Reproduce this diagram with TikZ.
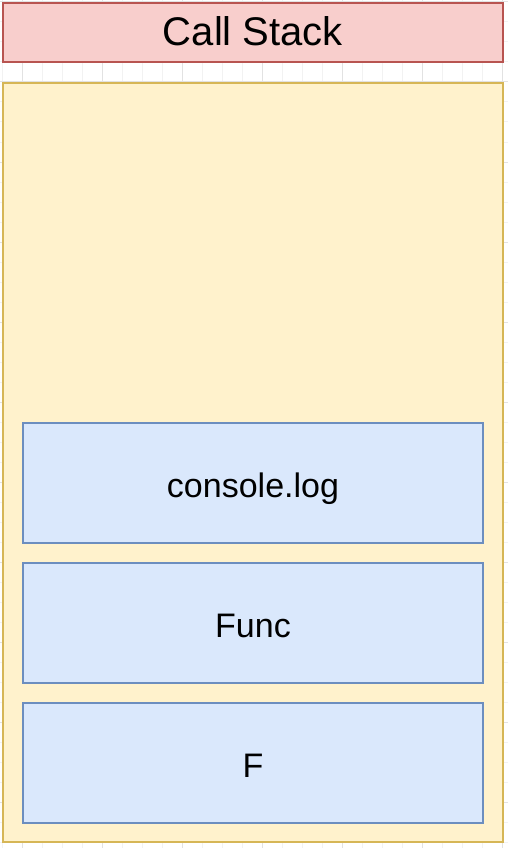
\documentclass[tikz,border=0pt]{standalone}
\usepackage{fontspec}
\setmainfont{Liberation Sans}
\usetikzlibrary{positioning}
\definecolor{headfill}{HTML}{F8CECC}
\definecolor{headline}{HTML}{B85450}
\definecolor{stackfill}{HTML}{FFF2CC}
\definecolor{stackline}{HTML}{D6B656}
\definecolor{framefill}{HTML}{DAE8FC}
\definecolor{frameline}{HTML}{6C8EBF}
\definecolor{gridminor}{HTML}{F2F2F2}
\definecolor{gridmajor}{HTML}{E2E2E2}

\begin{document}
\begin{tikzpicture}[x=1pt,y=-1pt,
    headbox/.style={draw=headline,fill=headfill,line width=1.2pt,
        minimum width=500pt,minimum height=59pt,inner sep=0pt,outer sep=0pt,
        text height=26pt,text depth=0pt,
        font=\fontsize{40}{46}\selectfont},
    stackbox/.style={draw=stackline,fill=stackfill,line width=1.2pt,
        minimum width=500pt,minimum height=759pt,inner sep=0pt,outer sep=0pt},
    framebox/.style={draw=frameline,fill=framefill,line width=1.2pt,
        minimum width=460pt,minimum height=120pt,inner sep=0pt,outer sep=0pt,
        text height=28pt,text depth=0pt,
        font=\fontsize{34}{40}\selectfont}]
    \useasboundingbox (0,0) rectangle (508,848);
    % background grid
    \foreach \x in {2.5,22.5,...,508} {
        \draw[gridminor,line width=1pt] (\x,0) -- (\x,848);
    }
    \foreach \y in {2,22,...,848} {
        \draw[gridminor,line width=1pt] (0,\y) -- (508,\y);
    }
    \foreach \x in {22.5,102.5,...,508} {
        \draw[gridmajor,line width=1pt] (\x,0) -- (\x,848);
    }
    \foreach \y in {2,82,...,848} {
        \draw[gridmajor,line width=1pt] (0,\y) -- (508,\y);
    }
    % title and stack
    \node[headbox] (head) at (253,32.5) {Call Stack};
    \node[stackbox] (stack) at (253,462.5) {};
    % frames
    \node[framebox] (flog) at (253,483) {console.log};
    \node[framebox,below=20pt of flog] (ffunc) {Func};
    \node[framebox,below=20pt of ffunc] (fmain) {F};
\end{tikzpicture}
\end{document}
